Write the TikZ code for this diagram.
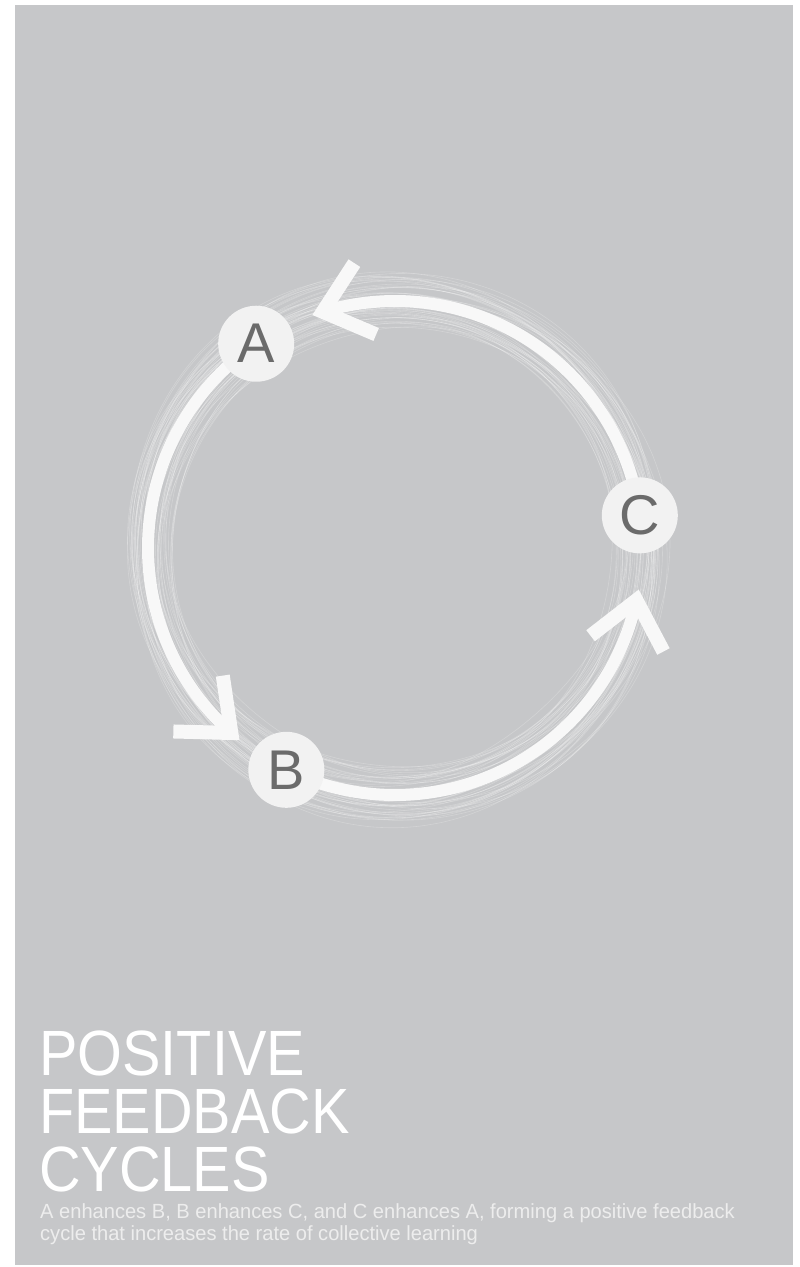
\documentclass[tikz,border=0pt]{standalone}
\usepackage{fontspec}
\setmainfont{Liberation Sans}
\newfontfamily\titlefont[FakeStretch=0.9]{Liberation Sans}
\newfontfamily\subfont[FakeStretch=0.98]{Liberation Sans}
\usetikzlibrary{calc}
\definecolor{bggray}{HTML}{C6C7C9}
\definecolor{ringwhite}{HTML}{F8F8F8}
\definecolor{nodefill}{HTML}{F2F2F2}
\definecolor{lettergray}{HTML}{6B6B6B}
\definecolor{subtext}{HTML}{EDEDED}
\tikzset{
  ring/.style={draw=ringwhite, line width=12, line cap=butt},
  chevron/.style={draw=ringwhite, line width=14, line cap=butt, line join=miter, miter limit=10},
  wisp/.style={draw=white, line width=0.6, opacity=0.22},
  letternode/.style={circle, fill=nodefill, minimum size=76, inner sep=0,
    text=lettergray, font=\fontsize{56}{56}\selectfont},
  titletext/.style={anchor=base west, inner sep=0, text=white, font=\titlefont\fontsize{64}{64}\selectfont},
  subtitletext/.style={anchor=base west, inner sep=0, text=subtext, font=\subfont\fontsize{20.5}{20.5}\selectfont}
}
\begin{document}
\begin{tikzpicture}[x=1pt,y=-1pt]
\useasboundingbox (0,0) rectangle (800,1267);
\fill[white] (0,0) rectangle (800,1267);
\fill[bggray] (15,5) rectangle (793,1265);
\coordinate (O) at (395,548);
% wisps
\pgfmathsetseed{11}
\foreach \i in {1,...,55}{
  \pgfmathsetmacro\aa{rand*24}
  \pgfmathsetmacro\bb{rand*10}
  \pgfmathsetmacro\pp{rnd*360}
  \pgfmathsetmacro\cc{rand*7}
  \pgfmathsetmacro\qq{rnd*360}
  \draw[wisp] plot[smooth cycle, domain=0:355, samples=72]
    ({395+(247+\aa+\bb*sin(2*\x+\pp)+\cc*sin(3*\x+\qq))*cos(\x)},
     {548+(247+\aa+\bb*sin(2*\x+\pp)+\cc*sin(3*\x+\qq))*sin(\x)});
}
% arrow tips
\coordinate (tA) at ($(O)+(253:247)$);
\coordinate (tB) at ($(O)+(131.5:247)$);
\coordinate (tC) at ($(O)+(12.2:247)$);
% arcs
\draw[ring] plot[domain=235.8:131.5, samples=80] ({395+247*cos(\x)},{548+247*sin(\x)});
\draw[ring] plot[domain=116.1:12.2, samples=80] ({395+247*cos(\x)},{548+247*sin(\x)});
\draw[ring] plot[domain=352.4:253, samples=80] ({395+247*cos(\x)},{548+247*sin(\x)});
% chevrons
\draw[chevron] ($(tA)+(253+90+40:58)$) -- (tA) -- ($(tA)+(253+90-40:58)$);
\draw[chevron] ($(tB)+(131.5+90+40:58)$) -- (tB) -- ($(tB)+(131.5+90-40:58)$);
\draw[chevron] ($(tC)+(12.2+90+40:58)$) -- (tC) -- ($(tC)+(12.2+90-40:58)$);
% nodes
\node[letternode] (A) at ($(O)+(235.8:247)$) {A};
\node[letternode] (B) at ($(O)+(116.1:247)$) {B};
\node[letternode] (C) at ($(O)+(-7.6:247)$) {C};
% title
\node[titletext] (t1) at (39,1075) {POSITIVE};
\node[titletext] (t2) at (39,1133) {FEEDBACK};
\node[titletext] (t3) at (39,1191) {CYCLES};
\node[subtitletext] (s1) at (40,1218) {A enhances B, B enhances C, and C enhances A, forming a positive feedback};
\node[subtitletext] (s2) at (40,1240) {cycle that increases the rate of collective learning};
\end{tikzpicture}
\end{document}
